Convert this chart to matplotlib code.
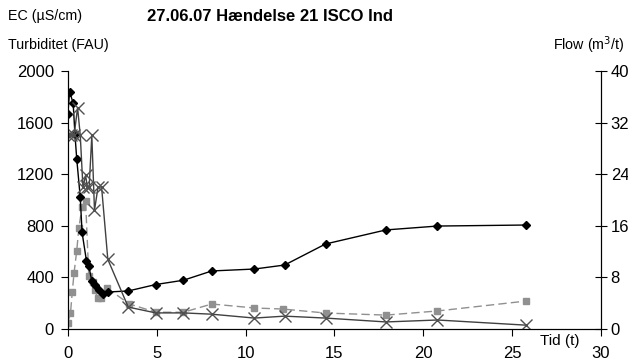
import numpy as np
import matplotlib.pyplot as plt

plt.rcParams['font.family'] = ['Liberation Sans', 'DejaVu Sans']

# EC (uS/cm)
t_ec = [0, 0.1, 0.3, 0.4, 0.5, 0.7, 0.8, 1.05, 1.18, 1.35, 1.55, 1.75, 1.97, 2.25,
        3.4, 4.95, 6.5, 8.1, 10.5, 12.2, 14.5, 17.9, 20.8, 25.8]
ec = [1665, 1840, 1750, 1510, 1320, 1020, 750, 527, 488, 372, 340, 302, 271, 287,
      295, 345, 378, 450, 465, 496, 659, 768, 798, 806]

# Turbiditet (FAU)
t_turb = [0, 0.15, 0.25, 0.35, 0.5, 0.62, 0.8, 1.0, 1.18, 1.4, 1.52, 1.68, 1.86, 2.2,
          3.45, 4.95, 6.5, 8.1, 10.5, 12.1, 14.5, 17.9, 20.8, 25.8]
turb = [50, 124, 287, 434, 605, 783, 946, 992, 411, 364, 302, 240, 240, 318,
        195, 130, 130, 194, 163, 155, 124, 108, 140, 217]

# Flow (m3/t)
t_flow = [0, 0.2, 0.35, 0.55, 0.7, 0.85, 1.0, 1.1, 1.2, 1.35, 1.5, 1.7, 1.9, 2.25,
          3.4, 4.95, 6.5, 8.1, 10.5, 12.2, 14.5, 17.9, 20.8, 25.8]
flow = [30, 30, 30, 34.3, 30, 22, 23.8, 22, 22, 30, 18.4, 22, 22, 10.8,
        3.4, 2.5, 2.5, 2.3, 1.7, 2.0, 1.7, 1.1, 1.4, 0.6]

fig = plt.figure(figsize=(6.28, 3.6), dpi=100)
ax = fig.add_axes([0.108, 0.086, 0.849, 0.717])
ax2 = ax.twinx()

ax.plot(t_turb, turb, color='#909090', linestyle=(0, (6, 3)), linewidth=1,
        marker='s', markersize=4, zorder=3)
ax.plot(t_ec, ec, color='black', linewidth=1, marker='D', markersize=4, zorder=4)
ax2.plot(t_flow, flow, color='#404040', linewidth=1, marker='x', markersize=8,
         markeredgewidth=1, markeredgecolor='#505050', zorder=2)

ax.set_xlim(0, 30)
ax.set_ylim(0, 2000)
ax2.set_ylim(0, 40)
ax.set_xticks(np.arange(0, 31, 5))
ax.set_yticks(np.arange(0, 2001, 400))
ax2.set_yticks(np.arange(0, 41, 8))

for a in (ax, ax2):
    a.spines['top'].set_visible(False)
    a.spines['left'].set_linewidth(0.8)
    a.spines['bottom'].set_linewidth(0.8)
    a.spines['right'].set_linewidth(0.8)
ax.tick_params(axis='both', labelsize=12, length=5, width=0.8)
ax.tick_params(axis='y', pad=5)
ax.tick_params(axis='x', direction='out', pad=7)
ax2.tick_params(axis='y', labelsize=12, direction='inout', length=8, width=0.8, pad=3)

fig.text(0.013, 0.955, 'EC (µS/cm)', fontsize=10.3, va='center')
fig.text(0.013, 0.875, 'Turbiditet (FAU)', fontsize=10.3, va='center')
fig.text(0.995, 0.875, 'Flow (m$^3$/t)', fontsize=10.3, va='center', ha='right')
fig.text(0.43, 0.955, '27.06.07 Hændelse 21 ISCO Ind', fontsize=12,
         fontweight='bold', va='center', ha='center')
fig.text(0.86, 0.052, 'Tid (t)', fontsize=11, va='center')

fig.savefig('out.png', dpi=100)
